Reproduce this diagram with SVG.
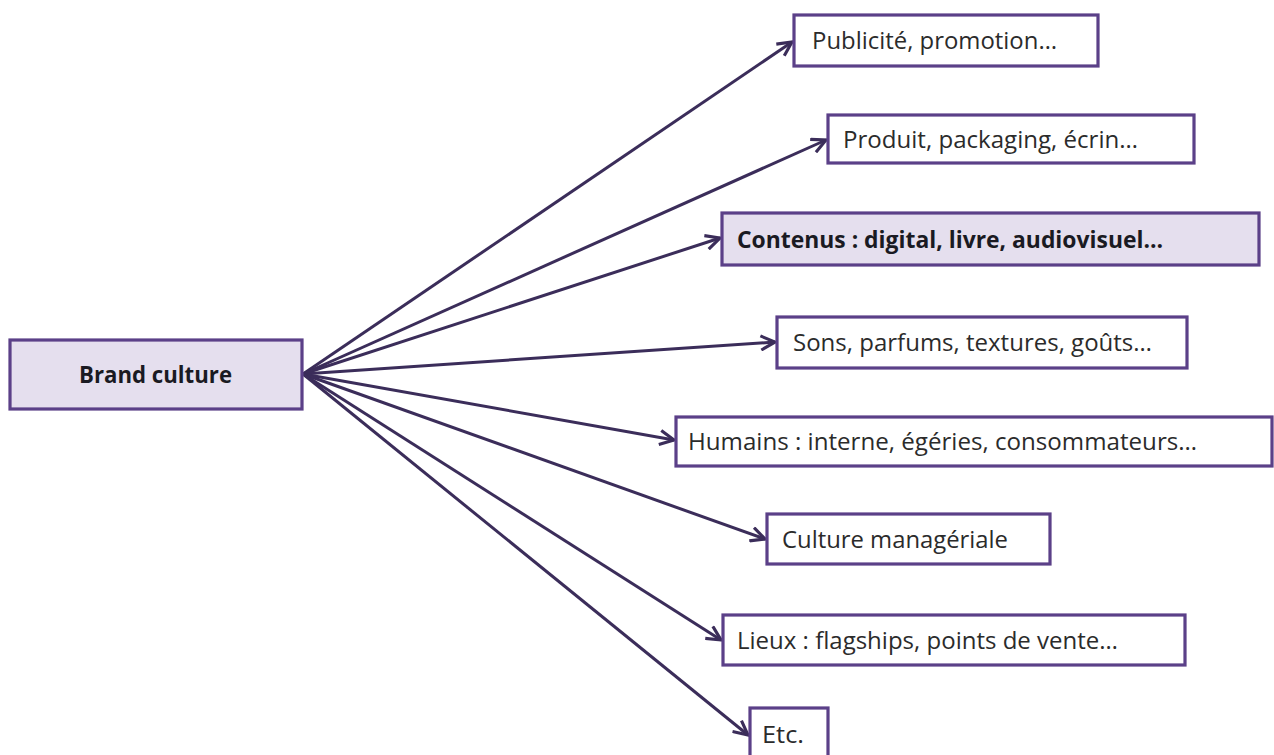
<svg xmlns="http://www.w3.org/2000/svg" width="1274" height="755" viewBox="0 0 1274 755">
<defs>
<style>
.box{fill:#ffffff;stroke:#5b4088;stroke-width:3.2}
.hl{fill:#e5dfee}
.t{font-family:"Open Sans","Liberation Sans",sans-serif;font-size:23.5px;fill:#2b2b2b}
.b{font-weight:bold;fill:#1a1a22}
.c{stroke:#3b2d5a;stroke-width:3;fill:none}
</style>
<marker id="ah" viewBox="0 0 12 12" refX="11" refY="6" markerWidth="17" markerHeight="17" markerUnits="userSpaceOnUse" orient="auto">
<path d="M1,1 L11,6 L1,11" fill="none" stroke="#3b2d5a" stroke-width="2.2" stroke-linejoin="miter"/>
</marker>
</defs>
<rect width="1274" height="755" fill="#ffffff"/>
<g id="connectors">
<line class="c" x1="303" y1="374" x2="792" y2="42" marker-end="url(#ah)"/>
<line class="c" x1="303" y1="374" x2="826" y2="140" marker-end="url(#ah)"/>
<line class="c" x1="303" y1="374" x2="720" y2="238" marker-end="url(#ah)"/>
<line class="c" x1="303" y1="374" x2="775" y2="342" marker-end="url(#ah)"/>
<line class="c" x1="303" y1="374" x2="674" y2="440" marker-end="url(#ah)"/>
<line class="c" x1="303" y1="374" x2="765" y2="539" marker-end="url(#ah)"/>
<line class="c" x1="303" y1="374" x2="721" y2="640" marker-end="url(#ah)"/>
<line class="c" x1="303" y1="374" x2="748" y2="735" marker-end="url(#ah)"/>
</g>
<g id="brand">
<rect class="box hl" x="10" y="340" width="292" height="69"/>
<text class="t b" x="79" y="383" textLength="153" lengthAdjust="spacingAndGlyphs">Brand culture</text>
</g>
<g id="publicite">
<rect class="box" x="794" y="15" width="304" height="51"/>
<text class="t" x="812" y="49" textLength="245" lengthAdjust="spacingAndGlyphs">Publicité, promotion…</text>
</g>
<g id="produit">
<rect class="box" x="828" y="115" width="366" height="48"/>
<text class="t" x="843" y="148" textLength="295" lengthAdjust="spacingAndGlyphs">Produit, packaging, écrin…</text>
</g>
<g id="contenus">
<rect class="box hl" x="722" y="213" width="537" height="52"/>
<text class="t b" x="737" y="248" textLength="426" lengthAdjust="spacingAndGlyphs">Contenus : digital, livre, audiovisuel…</text>
</g>
<g id="sons">
<rect class="box" x="777" y="317" width="410" height="51"/>
<text class="t" x="793" y="351" textLength="359" lengthAdjust="spacingAndGlyphs">Sons, parfums, textures, goûts…</text>
</g>
<g id="humains">
<rect class="box" x="676" y="417" width="596" height="49"/>
<text class="t" x="688" y="450" textLength="509" lengthAdjust="spacingAndGlyphs">Humains : interne, égéries, consommateurs…</text>
</g>
<g id="culture">
<rect class="box" x="767" y="514" width="283" height="50"/>
<text class="t" x="782" y="548" textLength="226" lengthAdjust="spacingAndGlyphs">Culture managériale</text>
</g>
<g id="lieux">
<rect class="box" x="723" y="615" width="462" height="50"/>
<text class="t" x="737" y="649" textLength="381" lengthAdjust="spacingAndGlyphs">Lieux : flagships, points de vente…</text>
</g>
<g id="etc">
<rect class="box" x="750" y="708" width="78" height="52"/>
<text class="t" x="762" y="743" textLength="42" lengthAdjust="spacingAndGlyphs">Etc.</text>
</g>
</svg>
